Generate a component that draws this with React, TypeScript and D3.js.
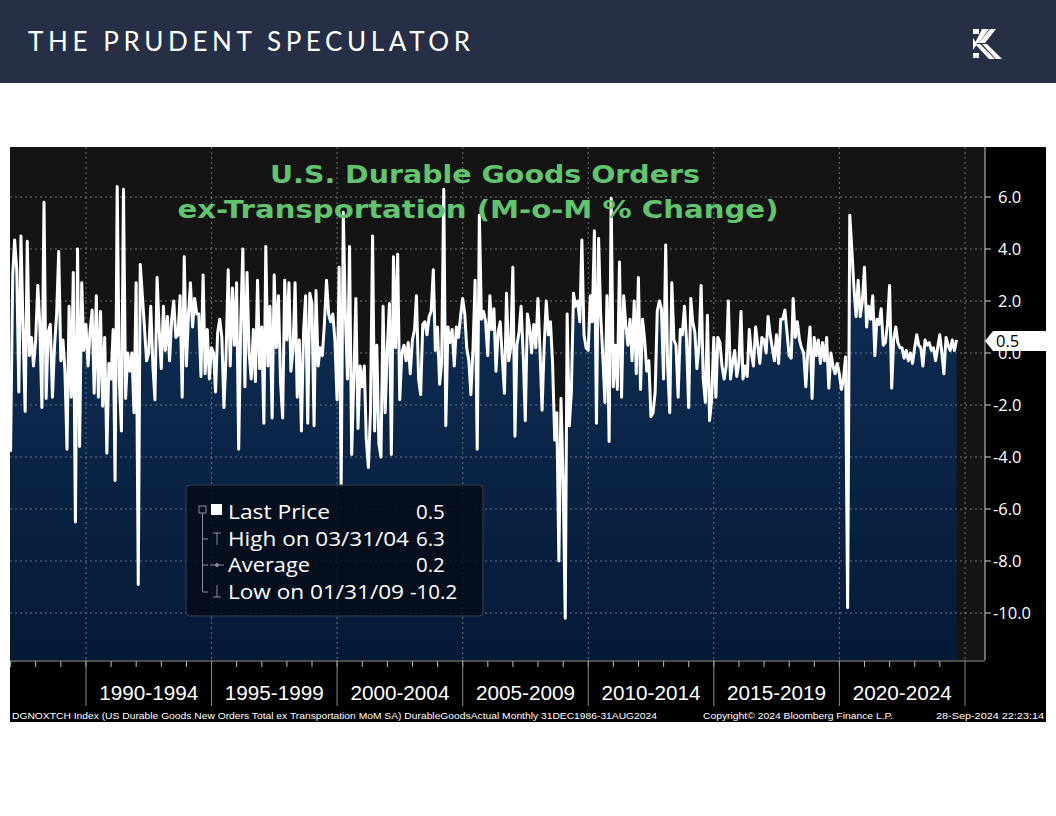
import React from 'react';
import * as d3 from 'd3';

// Monthly values (month-end dates), Dec 1986 .. Aug 2024
const v1986_1989 = [-3.8, 3.0, 4.35, 3.2, -1.5, 4.5, 1.0, -2.25, 4.3, -0.1, 0.6, -0.5, 0.5, 2.6, 1.1, -2.1, 5.8, -1.75, 0.8, 1.1, -1.7, 0.25, 1.5, 3.9, -0.3, 0.5, -0.65, -3.7, 1.8, -1.7, 3.1, -6.5, 4.0, -3.6, 2.7, 0.1, 1.1];
const v1990_1994 = [-0.5, 0.8, 1.65, -1.55, 2.2, -1.7, 1.6, -2.05, 0.6, -3.85, -0.4, -1.0, 0.9, -4.9, 6.4, -1.0, -3.0, 6.3, -1.75, 0.0, -0.7, 0.0, -2.3, 2.7, -8.9, 3.4, 2.2, 1.0, -0.3, 0.0, 1.8, -0.5, -1.8, 2.9, 0.9, -0.6, 1.8, 0.1, 1.4, -0.3, 1.3, 2.0, 0.6, 0.7, 2.2, -1.7, 3.7, -0.5, 1.5, 2.7, 1.0, 2.1, 1.5, 1.5, -0.9, 3.0, -0.8, 0.9, -1.0, 0.2];
const v1995_1999 = [0.0, -1.5, 0.8, 1.3, 0.6, -2.1, -0.1, 3.2, -0.5, 2.5, 0.3, 2.7, -3.7, 1.1, 4.0, -1.3, 3.1, 0.0, -1.0, 0.9, -1.1, 2.8, -0.6, 1.0, -2.7, 4.1, -0.5, 1.8, -2.5, 3.0, 0.2, 2.2, -1.1, -2.5, 2.8, 0.5, 2.7, -0.7, 0.1, 2.7, -1.7, 0.5, -3.0, 0.8, 2.2, -2.7, 2.3, 1.9, -2.8, 2.4, -0.5, 0.2, -0.1, 1.1, 2.8, 1.5, 1.2, 1.5, 0.5, -1.8];
const v2000_2004 = [3.3, -5.1, 5.4, 1.5, -1.0, 4.1, -3.9, -1.0, 2.1, -2.9, -0.5, -1.3, -0.5, -3.3, -4.4, -2.3, 4.5, -3.0, 0.3, -3.5, -4.0, 1.8, -2.3, 0.2, 1.9, -3.9, 3.7, 0.2, 3.8, -1.8, 0.0, 0.3, -0.3, 0.4, -0.8, 0.5, 0.9, 2.2, -1.0, -1.6, 1.1, 1.2, 0.7, 1.4, 1.6, 3.2, 0.1, 1.0, -1.2, -0.4, 6.3, -2.8, 1.0, 0.4, 0.9, -0.5, 1.0, 0.6, 1.4, 2.1];
const v2005_2009 = [1.5, 0.2, -0.3, -1.6, 0.2, 2.8, -3.7, 5.3, 1.3, 1.6, 1.2, -0.1, 2.2, 0.9, 1.7, -0.7, 0.8, 1.2, -0.2, -1.55, 2.3, -0.3, 0.2, 3.3, -3.2, 0.3, 0.8, 1.8, -0.1, -2.6, 1.5, 1.0, 0.0, 1.1, 0.2, 2.1, 0.0, -2.2, 0.3, 2.0, 0.7, 1.2, -0.4, -3.35, -2.3, -8.0, -1.75, -4.9, -10.2, 1.5, -2.8, -1.5, 2.3, 1.8, 2.0, 1.2, 4.35, 0.7, 0.2, 0.1];
const v2010_2014 = [2.2, 1.2, 4.7, -2.7, 4.4, 1.5, -0.1, -1.9, 2.2, -3.4, 5.95, -1.3, 0.3, -1.4, 3.5, -1.7, 2.2, 1.1, 0.3, 1.3, -0.3, 2.0, -0.8, 2.9, -1.4, 1.3, 0.5, -0.7, -0.3, -2.45, -2.3, -1.5, 1.6, 2.0, 1.7, -1.0, 4.15, -0.5, -2.3, 2.7, 0.5, 0.3, -1.7, 0.9, 0.7, 1.8, 0.5, -2.1, 2.1, 1.2, 0.8, -0.6, 0.3, 2.6, -1.0, -1.9, 1.45, -2.6, -1.8, 0.6];
const v2015_2019 = [-1.7, 0.6, 0.4, -0.5, -1.0, -0.5, 2.0, -1.0, -0.4, 0.1, -0.9, -0.4, 1.6, -1.0, -0.5, -0.9, 0.9, 0.0, -0.5, 1.0, 0.3, -0.4, 0.6, 0.5, 0.0, 1.4, 0.7, 0.2, -0.3, 0.7, -0.4, 1.3, 1.3, 1.65, 0.8, -0.1, -0.2, 2.1, 0.6, 1.2, 0.5, 0.2, 0.0, -1.3, 0.1, 1.0, -1.75, 0.6, -0.1, 0.5, -0.4, 0.4, -0.3, 0.6, -1.35, 0.0, -0.5, -0.8, -0.4, -0.8];
const v2020_2024 = [-1.4, -1.0, -0.15, -9.8, 5.3, 4.0, 2.5, 1.4, 2.8, 1.4, 2.0, 3.3, 1.0, 1.8, 1.3, 2.2, -0.1, 1.3, 1.1, 1.7, 0.3, 0.4, 1.1, 2.6, -1.35, 0.5, 1.0, 0.4, 0.2, 0.2, -0.2, 0.1, -0.3, 0.0, -0.4, 0.2, 0.7, 0.3, 0.2, -0.5, 0.5, 0.3, 0.4, 0.1, 0.2, -0.3, 0.2, 0.7, 0.0, -0.8, 0.6, 0.3, 0.1, 0.5, 0.1, 0.5];

const periodLabels = ['1990-1994', '1995-1999', '2000-2004', '2005-2009', '2010-2014', '2015-2019', '2020-2024'];
const boundaryYears = [1990, 1995, 2000, 2005, 2010, 2015, 2020, 2025];
const yTicks = [6, 4, 2, 0, -2, -4, -6, -8, -10];
const legendLabels = ['Last Price', 'High on 03/31/04', 'Average', 'Low on 01/31/09'];
const legendValues = ['0.5', '6.3', '0.2', '-10.2'];
const titleLines = ['U.S. Durable Goods Orders', 'ex-Transportation (M-o-M % Change)'];
const footerLeft = 'DGNOXTCH Index (US Durable Goods New Orders Total ex Transportation MoM SA) DurableGoodsActual  Monthly 31DEC1986-31AUG2024';
const footerMid = 'Copyright\u00A9 2024 Bloomberg Finance L.P.';
const footerRight = '28-Sep-2024 22:23:14';
const lastValue = '0.5';

export default function App() {
  const values = [...v1986_1989, ...v1990_1994, ...v1995_1999, ...v2000_2004, ...v2005_2009, ...v2010_2014, ...v2015_2019, ...v2020_2024];
  const data = values.map((v, i) => ({ date: new Date(1987, i, 0), value: v }));

  const L = 10, R = 985, T = 147, B = 660;
  const x = d3.scaleTime().domain([new Date(1990, 0, 1), new Date(2025, 0, 1)]).range([86, 965]);
  const y = d3.scaleLinear().domain([-10, 6]).range([613, 197]);

  const area = d3.area<any>().x(d => x(d.date)).y0(B).y1(d => y(d.value));
  const line = d3.line<any>().x(d => x(d.date)).y(d => y(d.value));
  const fmt = (v: number) => d3.format('.1f')(v).replace('\u2212', '-');

  const years = d3.range(1987, 2025).map(yr => new Date(yr, 0, 1));
  const sans = 'Lato, "Open Sans", sans-serif';
  const ui = '"Open Sans", Lato, sans-serif';
  const narrow = '"Liberation Sans Narrow", "Liberation Sans", Arial, sans-serif';
  const legendWidths = [102, 181, 82, 176];

  return (
    <svg width={1056} height={816} style={{ position: 'absolute', left: 0, top: 0, background: '#fff' }}>
      <defs>
        <linearGradient id="fillGrad" x1="0" y1={T} x2="0" y2={B} gradientUnits="userSpaceOnUse">
          <stop offset="0" stopColor="#11345e" />
          <stop offset="1" stopColor="#051a37" />
        </linearGradient>
        <clipPath id="plotClip"><rect x={L} y={T} width={R - L} height={B - T} /></clipPath>
      </defs>
      {/* header */}
      <rect x={0} y={0} width={1056} height={83} fill="#262f45" />
      <text x={28} y={51} fill="#fff" fontFamily={sans} fontSize={26} textLength={442} lengthAdjust="spacing">THE PRUDENT SPECULATOR</text>
      <g fill="#fff">
        <polygon points="973,29 979,29 979,34 973,34" />
        <polygon points="973,53 979,53 979,58 973,58" />
        <polygon points="982,29 989,29 979,43 975,43" />
        <polygon points="990,29 996,29 985,43 979,43" />
        <polygon points="975,44 980,44 995,59 989,59" />
        <polygon points="982,44 987,44 1002,59 996,59" />
        <polygon points="973,38 977,44 973,50" />
      </g>

      {/* chart panel */}
      <rect x={L} y={T} width={1046 - L} height={722 - T} fill="#000" />
      <rect x={L} y={T} width={R - L} height={B - T} fill="#141414" />
      <g clipPath="url(#plotClip)">
        <path d={area(data) || ''} fill="url(#fillGrad)" />
        {yTicks.map(t => (
          <line key={'h' + t} x1={L} x2={R} y1={y(t)} y2={y(t)} stroke="#6b7580" strokeWidth={1} strokeDasharray="2,3" />
        ))}
        {boundaryYears.map(yr => (
          <line key={'v' + yr} x1={x(new Date(yr, 0, 1))} x2={x(new Date(yr, 0, 1))} y1={T} y2={B} stroke="#6b7580" strokeWidth={1} strokeDasharray="2,3" />
        ))}
        <path d={line(data) || ''} fill="none" stroke="#fff" strokeWidth={3} strokeLinejoin="round" />
      </g>

      {/* title */}
      {titleLines.map((t, i) => (
        <text key={t} x={[485, 478][i]} y={[183, 218][i]} textAnchor="middle" fill="#63c46f" fontFamily='"DejaVu Sans", Verdana, sans-serif' fontWeight="bold" fontSize={25} textLength={[430, 601][i]} lengthAdjust="spacingAndGlyphs">{t}</text>
      ))}

      {/* legend */}
      <rect x={186} y={485} width={297} height={131} rx={4} fill="#050c18" fillOpacity={0.88} stroke="#3a4150" />
      <g stroke="#8a8f99" strokeWidth={1} fill="none">
        <rect x={199} y={506} width={7} height={7} />
        <line x1={202.5} y1={513} x2={202.5} y2={592} />
        <line x1={202.5} y1={539} x2={208} y2={539} />
        <line x1={202.5} y1={565} x2={208} y2={565} />
        <line x1={202.5} y1={592} x2={208} y2={592} />
        <line x1={213} y1={533} x2={221} y2={533} />
        <line x1={217} y1={533} x2={217} y2={545} />
        <line x1={210} y1={565} x2={224} y2={565} />
        <circle cx={217} cy={565} r={1.5} fill="#8a8f99" />
        <line x1={217} y1={585} x2={217} y2={597} />
        <line x1={213} y1={597} x2={221} y2={597} />
      </g>
      <rect x={211} y={504} width={11} height={11} fill="#fff" />
      {legendLabels.map((t, i) => (
        <text key={t} x={228} y={519 + i * 26.5} fill="#fff" fontFamily={ui} fontSize={20.5} textLength={legendWidths[i]} lengthAdjust="spacingAndGlyphs">{t}</text>
      ))}
      {legendValues.map((t, i) => (
        <text key={'lv' + i} x={i === 3 ? 410 : 416} y={519 + i * 26.5} fill="#fff" fontFamily={ui} fontSize={20.5}>{t}</text>
      ))}

      {/* right axis */}
      <line x1={R} x2={R} y1={T} y2={B} stroke="#cfcfcf" />
      {yTicks.map(t => (
        <g key={'yt' + t}>
          <line x1={R} x2={R + 6} y1={y(t)} y2={y(t)} stroke="#cfcfcf" />
          <text x={t < 0 ? 993 : 998} y={y(t) + 6} fill="#fff" fontFamily={ui} fontSize={16.5}>{fmt(t)}</text>
        </g>
      ))}
      <polygon points={`${R},341 ${R + 8},331 1046,331 1046,351 ${R + 8},351`} fill="#fff" />
      <text x={996} y={347} fill="#000" fontFamily={ui} fontSize={16.5}>{lastValue}</text>

      {/* bottom axis */}
      <line x1={L} x2={R} y1={B + 1} y2={B + 1} stroke="#9a9a9a" />
      {years.map(d => (
        <line key={'yr' + d.getFullYear()} x1={x(d)} x2={x(d)} y1={B + 1} y2={B + 7} stroke="#bdbdbd" />
      ))}
      {boundaryYears.map(yr => (
        <line key={'b' + yr} x1={x(new Date(yr, 0, 1))} x2={x(new Date(yr, 0, 1))} y1={B} y2={706} stroke="#8a8a8a" />
      ))}
      {periodLabels.map((t, i) => {
        const a = x(new Date(boundaryYears[i], 0, 1));
        const b = x(new Date(boundaryYears[i + 1], 0, 1));
        return (
          <text key={t} x={(a + b) / 2} y={700} textAnchor="middle" fill="#fff" fontFamily={narrow} fontSize={20} textLength={99} lengthAdjust="spacingAndGlyphs">{t}</text>
        );
      })}

      {/* footer */}
      <text x={12} y={719} fill="#fff" fontFamily={narrow} fontSize={9} textLength={645} lengthAdjust="spacingAndGlyphs">{footerLeft}</text>
      <text x={703} y={719} fill="#fff" fontFamily={narrow} fontSize={9} textLength={190} lengthAdjust="spacingAndGlyphs">{footerMid}</text>
      <text x={936} y={719} fill="#fff" fontFamily={narrow} fontSize={9} textLength={108} lengthAdjust="spacingAndGlyphs">{footerRight}</text>
    </svg>
  );
}
